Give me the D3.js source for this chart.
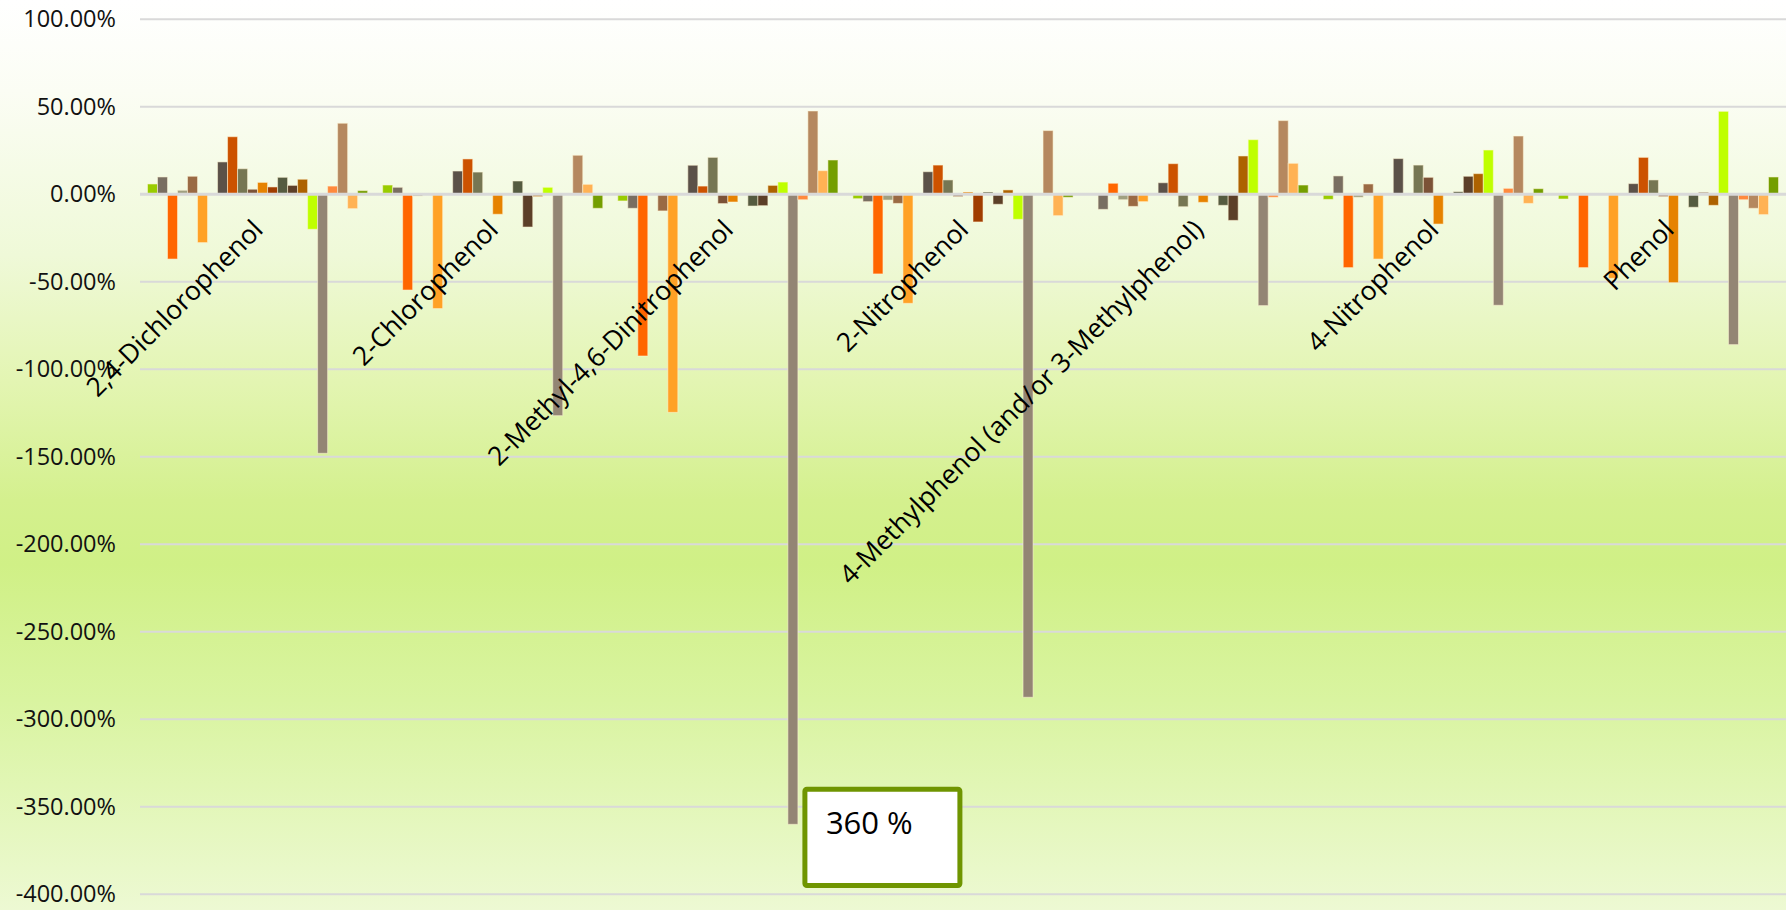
<!DOCTYPE html>
<html><head><meta charset="utf-8">
<script src="https://cdn.jsdelivr.net/npm/d3@7"></script>
<style>html,body{margin:0;padding:0;overflow:hidden;background:#fff}</style>
</head><body><svg id="chart" width="1786" height="910"></svg>
<script>
// ---- data ----
const categories = ["2,4-Dichlorophenol", "2-Chlorophenol", "2-Methyl-4,6-Dinitrophenol", "2-Nitrophenol",
  "4-Methylphenol (and/or 3-Methylphenol)", "4-Nitrophenol", "Phenol"];
const seriesNames = ["S1","S2","S3","S4","S5","S6","S7","S8","S9","S10","S11","S12","S13","S14","S15","S16","S17","S18","S19","S20","S21","S22"];
const seriesColors = ["#99CC00","#796E61","#FF6600","#A0A080","#9A6A44","#FFA126","#8C8C8C","#5B5148","#CC5200","#767653","#7B5237",
  "#E68200","#A03D00","#555B40","#5C3F28","#AD6200","#BFFF00","#938574","#FF8A3D","#B5885F","#FFB254","#749E00"];
// percent values per category, one entry per series (null = no bar)
const dichlorophenol24 = [5.9, 9.9, -37.0, 2.3, 10.3, -27.6, null, 18.5, 32.9, 14.6, 2.9, 6.8, 4.2, 9.7, 5.1, 8.6, -20.0, -148.0, 4.7, 40.6, -8.2, 2.1];
const chlorophenol2 = [5.3, 4.0, -54.7, -1.0, null, -65.3, null, 13.3, 20.2, 12.7, null, -11.4, null, 7.6, -18.7, -1.3, 4.0, -126.5, null, 22.3, 5.7, -8.0];
const methylDinitrophenol = [-3.8, -8.0, -92.4, null, -9.5, -124.6, null, 16.6, 4.7, 21.1, -5.3, -4.4, null, -6.7, -6.5, 5.1, 7.0, -360.0, -3.1, 47.6, 13.5, 19.6];
const nitrophenol2 = [-2.5, -4.2, -45.5, -3.3, -5.2, -62.3, null, 12.9, 16.7, 8.2, -1.3, 1.3, -15.8, 1.3, -5.7, 2.5, -14.3, -287.4, null, 36.4, -12.2, -1.7];
const methylphenol4 = [null, -8.6, 6.3, -3.1, -6.9, -4.2, null, 6.6, 17.5, -7.1, null, -4.6, null, -6.3, -14.9, 21.9, 31.2, -63.6, -1.7, 42.1, 17.7, 5.3];
const nitrophenol4 = [-2.9, 10.5, -41.9, -1.7, 5.9, -37.0, null, 20.4, null, 16.7, 9.7, -17.0, null, 1.5, 10.3, 11.8, 25.3, -63.4, 3.4, 33.3, -5.2, 3.2];
const phenol = [-2.7, null, -41.9, null, null, -48.0, null, 6.1, 21.1, 8.2, -1.3, -50.5, null, -7.4, 1.1, -6.3, 47.4, -85.9, -3.1, -8.0, -11.6, 9.9];
const yTicks = [100, 50, 0, -50, -100, -150, -200, -250, -300, -350, -400];
const calloutCategory = "2-Methyl-4,6-Dinitrophenol";
const calloutSeries = 17;
const calloutText = "360 %";

const valuesByCategory = [dichlorophenol24, chlorophenol2, methylDinitrophenol, nitrophenol2, methylphenol4, nitrophenol4, phenol];

// ---- layout ----
const W = 1786, H = 910;
const svg = d3.select("#chart");
const FONT = "'Open Sans', 'DejaVu Sans', sans-serif";

const defs = svg.append("defs");
const grad = defs.append("linearGradient").attr("id", "bg").attr("x1", 0).attr("y1", 0).attr("x2", 0).attr("y2", 1);
[[0, "#FFFFFF"], [0.1, "#FBFDF4"], [0.28, "#EFF9D8"], [0.42, "#E3F5B2"], [0.55, "#D4F08E"], [0.62, "#D0F086"],
 [0.77, "#D9F4A0"], [1, "#EDF9D3"]].forEach(([o, c]) => grad.append("stop").attr("offset", o).attr("stop-color", c));
svg.append("rect").attr("width", W).attr("height", H).attr("fill", "url(#bg)");

const x0 = d3.scaleBand().domain(categories).range([140, 1786]).paddingInner(0).paddingOuter(0);
const nS = seriesNames.length;
const slots = nS + 1.5;
const bw = x0.bandwidth();
const x1 = d3.scaleBand().domain(d3.range(nS)).range([bw * 0.75 / slots, bw - bw * 0.75 / slots]).padding(0);
const y = d3.scaleLinear().domain([-400, 100]).range([894.3, 19.3]);

// gridlines
svg.append("g").selectAll("line").data(yTicks.filter(t => t !== 0)).join("line")
  .attr("x1", 140).attr("x2", 1786).attr("y1", d => y(d)).attr("y2", d => y(d))
  .attr("stroke", "#D9D9D9").attr("stroke-width", 2);

// y axis labels
const fmt = v => (v < 0 ? "-" : "") + Math.abs(v).toFixed(2) + "%";
const yAxis = svg.append("g").attr("transform", "translate(116,0)")
  .call(d3.axisLeft(y).tickValues(yTicks).tickSize(0).tickPadding(0).tickFormat(fmt));
yAxis.select(".domain").remove();
yAxis.selectAll("text").attr("font-family", FONT).attr("font-size", 23.5).attr("fill", "#111");

// bars
const groups = svg.append("g").selectAll("g").data(categories).join("g")
  .attr("transform", d => `translate(${x0(d)},0)`);
groups.selectAll("rect")
  .data((c, ci) => valuesByCategory[ci].map((v, si) => ({ v, si })).filter(d => d.v !== null))
  .join("rect")
  .attr("x", d => x1(d.si))
  .attr("width", x1.bandwidth())
  .attr("y", d => y(Math.max(0, d.v)))
  .attr("height", d => Math.abs(y(d.v) - y(0)))
  .attr("fill", d => seriesColors[d.si])
  .attr("stroke", "rgba(255,245,215,0.55)").attr("stroke-width", 1);

// zero axis line
svg.append("line").attr("x1", 140).attr("x2", 1786).attr("y1", y(0)).attr("y2", y(0))
  .attr("stroke", "#D9D9D9").attr("stroke-width", 3);

// category labels
svg.append("g").selectAll("text").data(categories).join("text")
  .attr("transform", d => `translate(${x0(d) + bw / 2 + 7},${y(0) + 37}) rotate(-45)`)
  .attr("text-anchor", "end")
  .attr("font-family", FONT).attr("font-size", 26.5).attr("fill", "#000")
  .text(d => d);

// callout
const cx = x0(calloutCategory) + x1(calloutSeries) + x1.bandwidth() + 7;
const cb = svg.append("g");
cb.append("rect").attr("x", cx).attr("y", y(-340)).attr("width", 155).attr("height", y(-395) - y(-340))
  .attr("fill", "#FFFFFF").attr("stroke", "#6F9500").attr("stroke-width", 5).attr("rx", 2);
cb.append("text").attr("x", cx + 21).attr("y", y(-340) + 45)
  .attr("font-family", FONT).attr("font-size", 31).attr("fill", "#000").text(calloutText);
</script></body></html>
